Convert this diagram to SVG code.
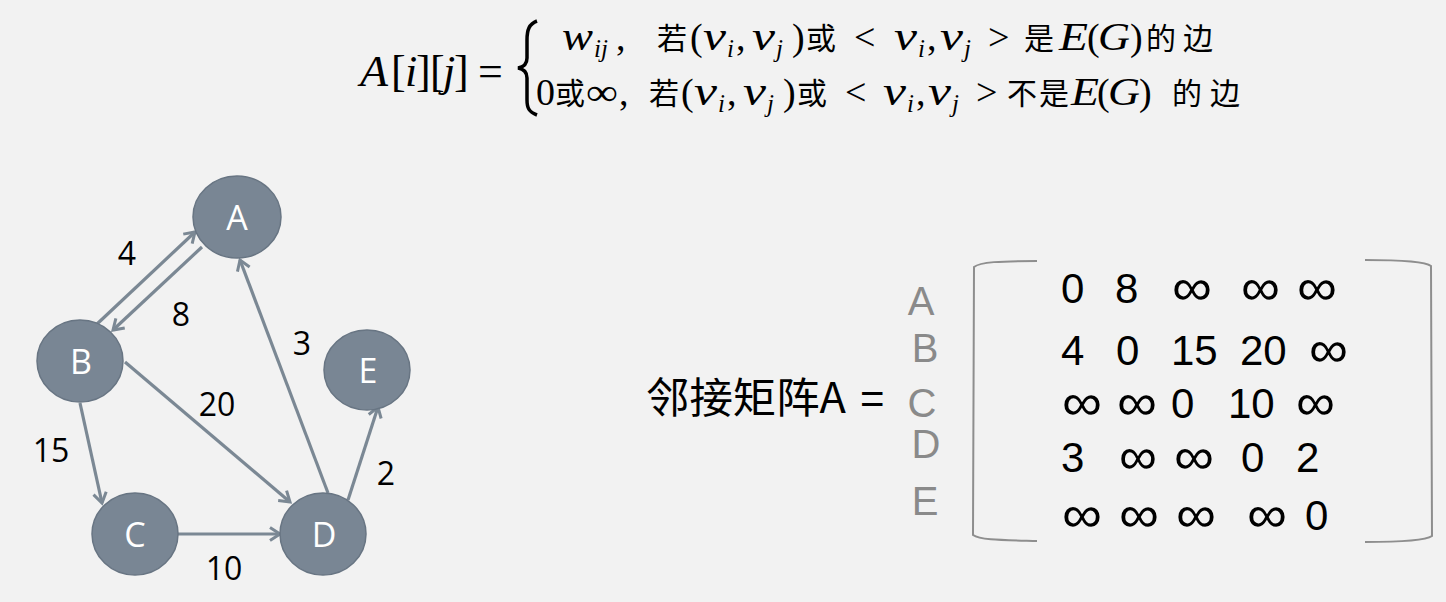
<svg xmlns="http://www.w3.org/2000/svg" width="1446" height="602" viewBox="0 0 1446 602">
<defs>
<style>
.bg{fill:#f2f2f2}
.node{fill:#798694;stroke:#687583;stroke-width:1.5}
.nl{font-family:"Open Sans","Liberation Sans",sans-serif;font-size:34px;fill:#ffffff;text-anchor:middle}
.el{font-family:"Open Sans","Liberation Sans",sans-serif;font-size:32px;fill:#000;text-anchor:middle}
.edge{stroke:#7b8894;stroke-width:3.2;fill:none;marker-end:url(#arr)}
.mi{font-family:"Liberation Serif",serif;font-style:italic;font-size:40px;fill:#000}
.ms{font-family:"Liberation Serif",serif;font-style:italic;font-size:25px;fill:#000}
.mu{font-family:"Liberation Serif",serif;font-size:38px;fill:#000}
.cj{font-family:"Noto Sans CJK SC",sans-serif;font-size:30px;fill:#000}
.big{font-family:"Liberation Serif",serif;font-size:44px;fill:#000}
.bigi{font-family:"Liberation Serif",serif;font-style:italic;font-size:44px;fill:#000}
.mx{font-family:"Liberation Sans",sans-serif;font-size:42px;fill:#000}
.inf{font-family:"Liberation Sans",sans-serif;font-size:52px;fill:#000}
.rl{font-family:"Liberation Sans",sans-serif;font-size:40px;fill:#8a8a8a;text-anchor:middle}
.tt{font-family:"Noto Sans CJK SC",sans-serif;font-size:42px;fill:#000}
.eq{font-family:"Liberation Sans",sans-serif;font-size:42px;fill:#000}
.br{stroke:#8e8e8e;stroke-width:2;fill:none}
</style>
<marker id="arr" viewBox="0 0 16 16" refX="13" refY="8" markerWidth="16" markerHeight="16" markerUnits="userSpaceOnUse" orient="auto">
<path d="M3,1.5 L13,8 L3,14.5" fill="none" stroke="#7b8894" stroke-width="3"/>
</marker>
</defs>
<rect class="bg" x="0" y="0" width="1446" height="602"/>

<g id="formula">
<text class="bigi" x="360" y="86" textLength="28" lengthAdjust="spacingAndGlyphs">A</text>
<text class="big" x="391" y="86">[</text>
<text class="bigi" x="405" y="86">i</text>
<text class="big" x="416" y="86">]</text>
<text class="big" x="430" y="86">[</text>
<text class="bigi" x="443" y="86">j</text>
<text class="big" x="454" y="86">]</text>
<text class="big" x="478" y="86">=</text>
<path d="M537,21 C529,24 527,30 527,40 L527,58 C527,64 524,67 518,68 C524,69 527,72 527,78 L527,100 C527,108 529,112 537,115" fill="none" stroke="#000" stroke-width="3.5"/>

<!-- line 1 -->
<text class="mi" x="562" y="50" textLength="31" lengthAdjust="spacingAndGlyphs">w</text>
<text class="ms" x="594" y="57">ij</text>
<text class="mu" x="616" y="50">,</text>
<text class="cj" x="657" y="49">若</text>
<text class="mu" x="690" y="50">(</text>
<text class="mi" x="703" y="50" textLength="23" lengthAdjust="spacingAndGlyphs">v</text>
<text class="ms" x="727" y="57">i</text>
<text class="mu" x="736" y="50">,</text>
<text class="mi" x="752" y="50" textLength="23" lengthAdjust="spacingAndGlyphs">v</text>
<text class="ms" x="776" y="57">j</text>
<text class="mu" x="792" y="50">)</text>
<text class="cj" x="806" y="49">或</text>
<text class="mu" x="854" y="50">&lt;</text>
<text class="mi" x="894" y="50" textLength="23" lengthAdjust="spacingAndGlyphs">v</text>
<text class="ms" x="918" y="57">i</text>
<text class="mu" x="927" y="50">,</text>
<text class="mi" x="940" y="50" textLength="23" lengthAdjust="spacingAndGlyphs">v</text>
<text class="ms" x="964" y="57">j</text>
<text class="mu" x="988" y="50">&gt;</text>
<text class="cj" x="1024" y="49">是</text>
<text class="mi" x="1059" y="50" textLength="29" lengthAdjust="spacingAndGlyphs">E</text>
<text class="mu" x="1087" y="50">(</text>
<text class="mi" x="1098" y="50" textLength="32" lengthAdjust="spacingAndGlyphs">G</text>
<text class="mu" x="1130" y="50">)</text>
<text class="cj" x="1146" y="49">的</text>
<text class="cj" x="1183" y="49">边</text>

<!-- line 2 -->
<text class="mu" x="536" y="105">0</text>
<text class="cj" x="555" y="104">或</text>
<text class="mu" x="586" y="105" textLength="32" lengthAdjust="spacingAndGlyphs">∞</text>
<text class="mu" x="619" y="105">,</text>
<text class="cj" x="649" y="104">若</text>
<text class="mu" x="681" y="105">(</text>
<text class="mi" x="694" y="105" textLength="23" lengthAdjust="spacingAndGlyphs">v</text>
<text class="ms" x="718" y="112">i</text>
<text class="mu" x="727" y="105">,</text>
<text class="mi" x="743" y="105" textLength="23" lengthAdjust="spacingAndGlyphs">v</text>
<text class="ms" x="767" y="112">j</text>
<text class="mu" x="783" y="105">)</text>
<text class="cj" x="797" y="104">或</text>
<text class="mu" x="845" y="105">&lt;</text>
<text class="mi" x="883" y="105" textLength="23" lengthAdjust="spacingAndGlyphs">v</text>
<text class="ms" x="907" y="112">i</text>
<text class="mu" x="916" y="105">,</text>
<text class="mi" x="928" y="105" textLength="23" lengthAdjust="spacingAndGlyphs">v</text>
<text class="ms" x="952" y="112">j</text>
<text class="mu" x="976" y="105">&gt;</text>
<text class="cj" x="1007" y="104">不</text>
<text class="cj" x="1039" y="104">是</text>
<text class="mi" x="1071" y="105" textLength="28" lengthAdjust="spacingAndGlyphs">E</text>
<text class="mu" x="1097" y="105">(</text>
<text class="mi" x="1108" y="105" textLength="32" lengthAdjust="spacingAndGlyphs">G</text>
<text class="mu" x="1139" y="105">)</text>
<text class="cj" x="1172" y="104">的</text>
<text class="cj" x="1210" y="104">边</text>
</g>

<g id="connectors">
<line class="edge" x1="97" y1="324" x2="195" y2="232"/>
<line class="edge" x1="202" y1="247" x2="113" y2="330"/>
<line class="edge" x1="80" y1="403" x2="102" y2="503"/>
<line class="edge" x1="125" y1="362" x2="290" y2="502"/>
<line class="edge" x1="178" y1="534" x2="280" y2="534"/>
<line class="edge" x1="328" y1="493" x2="240" y2="260"/>
<line class="edge" x1="348" y1="500" x2="378" y2="407"/>
<text class="el" x="127" y="265">4</text>
<text class="el" x="181" y="326">8</text>
<text class="el" x="302" y="355">3</text>
<text class="el" x="217" y="416">20</text>
<text class="el" x="51" y="462">15</text>
<text class="el" x="386" y="485">2</text>
<text class="el" x="224" y="580">10</text>
</g>

<g id="node-A"><ellipse class="node" cx="237" cy="217" rx="44" ry="41"/><text class="nl" x="237" y="230">A</text></g>
<g id="node-B"><ellipse class="node" cx="80" cy="361" rx="43" ry="41"/><text class="nl" x="81" y="374">B</text></g>
<g id="node-E"><ellipse class="node" cx="367" cy="370" rx="43" ry="40"/><text class="nl" x="368" y="383">E</text></g>
<g id="node-C"><ellipse class="node" cx="135" cy="534" rx="43" ry="41"/><text class="nl" x="135" y="547">C</text></g>
<g id="node-D"><ellipse class="node" cx="323" cy="534" rx="43" ry="41"/><text class="nl" x="324" y="547">D</text></g>

<g id="matrix">
<text class="tt" x="646" y="413" textLength="200" lengthAdjust="spacingAndGlyphs">邻接矩阵A</text>
<text class="eq" x="860" y="413">=</text>
<text class="rl" x="921" y="315">A</text>
<text class="rl" x="925" y="362">B</text>
<text class="rl" x="922" y="417">C</text>
<text class="rl" x="926" y="458">D</text>
<text class="rl" x="925" y="515">E</text>
<path class="br" d="M1037,261 C1000,261 980,262 974,267 L973,535 C980,540 1000,540 1037,541"/>
<path class="br" d="M1365,260 C1400,260 1425,261 1431,266 L1432,536 C1425,541 1400,542 1365,542"/>
<!-- row 1 -->
<text class="mx" x="1061" y="303">0</text>
<text class="mx" x="1115" y="303">8</text>
<text class="inf" x="1172" y="305" textLength="40" lengthAdjust="spacingAndGlyphs">∞</text>
<text class="inf" x="1241" y="305" textLength="39" lengthAdjust="spacingAndGlyphs">∞</text>
<text class="inf" x="1297" y="305" textLength="40" lengthAdjust="spacingAndGlyphs">∞</text>
<!-- row 2 -->
<text class="mx" x="1061" y="365">4</text>
<text class="mx" x="1116" y="365">0</text>
<text class="mx" x="1171" y="365">15</text>
<text class="mx" x="1240" y="365">20</text>
<text class="inf" x="1309" y="367" textLength="39" lengthAdjust="spacingAndGlyphs">∞</text>
<!-- row 3 -->
<text class="inf" x="1062" y="420" textLength="40" lengthAdjust="spacingAndGlyphs">∞</text>
<text class="inf" x="1117" y="420" textLength="40" lengthAdjust="spacingAndGlyphs">∞</text>
<text class="mx" x="1171" y="418">0</text>
<text class="mx" x="1228" y="418">10</text>
<text class="inf" x="1296" y="420" textLength="39" lengthAdjust="spacingAndGlyphs">∞</text>
<!-- row 4 -->
<text class="mx" x="1061" y="472">3</text>
<text class="inf" x="1119" y="474" textLength="38" lengthAdjust="spacingAndGlyphs">∞</text>
<text class="inf" x="1174" y="474" textLength="40" lengthAdjust="spacingAndGlyphs">∞</text>
<text class="mx" x="1241" y="472">0</text>
<text class="mx" x="1296" y="472">2</text>
<!-- row 5 -->
<text class="inf" x="1062" y="532" textLength="40" lengthAdjust="spacingAndGlyphs">∞</text>
<text class="inf" x="1119" y="532" textLength="40" lengthAdjust="spacingAndGlyphs">∞</text>
<text class="inf" x="1176" y="532" textLength="40" lengthAdjust="spacingAndGlyphs">∞</text>
<text class="inf" x="1247" y="532" textLength="40" lengthAdjust="spacingAndGlyphs">∞</text>
<text class="mx" x="1305" y="530">0</text>
</g>
</svg>
